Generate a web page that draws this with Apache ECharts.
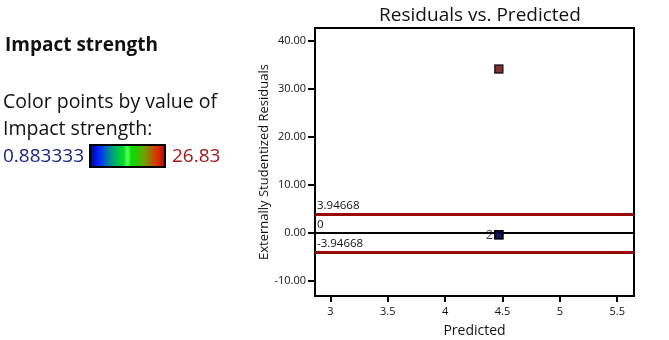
<!DOCTYPE html>
<html><head><meta charset="utf-8">
<script src="https://cdn.jsdelivr.net/npm/echarts@6/dist/echarts.min.js"></script>
<style>html,body{margin:0;padding:0;background:#fff}#c{width:669px;height:340px}</style>
</head><body><div id="c"></div>
<script>
// ---- data ----
const predicted = [4.468, 4.468, 4.468];
const residuals = [34.1, -0.4, -0.4];
const impactStrength = [26.83, 0.883333, 0.9];
const pointLabels = ['', '2', ''];
const limitUpper = 3.94668;
const limitLower = -3.94668;
const xTicks = [3, 3.5, 4, 4.5, 5, 5.5];
const yTicks = [-10, 0, 10, 20, 30, 40];
const colorMin = 0.883333;
const colorMax = 26.83;

const FONT = 'Open Sans';
const pts = predicted.map((x, i) => ({value: [x, residuals[i], impactStrength[i]], label: {show: !!pointLabels[i], formatter: pointLabels[i]}}));
const lblStyle = {fontSize: 11.5, color: '#111', fontFamily: FONT, position: 'insideStartTop', distance: [2, 2]};

const chart = echarts.init(document.getElementById('c'), null, {renderer: 'canvas'});
chart.setOption({
  animation: false,
  textStyle: {fontFamily: FONT},
  title: {text: 'Residuals vs. Predicted', left: 475, top: 1, textAlign: 'center',
    textStyle: {fontFamily: FONT, fontSize: 19, fontWeight: 'normal', color: '#111'}},
  grid: {left: 315, right: 35, top: 28, bottom: 44, show: true, borderColor: '#000', borderWidth: 2,
    backgroundColor: 'transparent', containLabel: false, outerBoundsMode: 'none'},
  visualMap: {show: false, type: 'continuous', dimension: 2, min: colorMin, max: colorMax,
    inRange: {color: ['#0c0c50', '#0a0a30', '#300505', '#600000']}},
  xAxis: {type: 'value', min: 2.866, max: 5.646, splitLine: {show: false},
    name: 'Predicted', nameLocation: 'middle', nameGap: 28,
    nameTextStyle: {fontFamily: FONT, fontSize: 14, color: '#111'},
    axisLine: {show: true, onZero: false, lineStyle: {color: '#000', width: 2}},
    axisTick: {show: true, length: 6, lineStyle: {color: '#000', width: 2}, customValues: xTicks},
    axisLabel: {customValues: xTicks, fontFamily: FONT, fontSize: 11, color: '#111', margin: 10}},
  yAxis: {type: 'value', min: -13.12, max: 42.64, splitLine: {show: false},
    name: 'Externally Studentized Residuals', nameLocation: 'middle', nameGap: 41, nameRotate: 90,
    nameTextStyle: {fontFamily: FONT, fontSize: 13, color: '#111'},
    axisLine: {show: true, onZero: false, lineStyle: {color: '#000', width: 2}},
    axisTick: {show: true, length: 7, lineStyle: {color: '#000', width: 2}, customValues: yTicks},
    axisLabel: {customValues: yTicks, formatter: v => v.toFixed(2), fontFamily: FONT, fontSize: 11, color: '#111', margin: 9}},
  series: [{
    type: 'scatter', symbol: 'rect', symbolSize: 8, z: 5,
    itemStyle: {borderColor: '#000', borderWidth: 1.5},
    label: {position: 'left', distance: 1, color: '#111', fontSize: 13, fontFamily: FONT},
    data: pts,
    markLine: {
      silent: true, symbol: 'none', animation: false,
      data: [
        {yAxis: limitUpper, lineStyle: {color: '#9a0808', width: 3, type: 'solid'},
          label: Object.assign({formatter: String(limitUpper)}, lblStyle)},
        {yAxis: 0, lineStyle: {color: '#000', width: 2, type: 'solid'},
          label: Object.assign({formatter: '0'}, lblStyle)},
        {yAxis: limitLower, lineStyle: {color: '#9a0808', width: 3, type: 'solid'},
          label: Object.assign({formatter: String(limitLower)}, lblStyle)}
      ]
    }
  }],
  graphic: [
    {type: 'text', style: {x: 5, y: 46, text: 'Impact strength', font: 'bold 19px "Open Sans"', fill: '#111', verticalAlign: 'middle'}},
    {type: 'text', style: {x: 3, y: 102, text: 'Color points by value of', font: '19.5px "Open Sans"', fill: '#111', verticalAlign: 'middle'}},
    {type: 'text', style: {x: 3, y: 129, text: 'Impact strength:', font: '19.5px "Open Sans"', fill: '#111', verticalAlign: 'middle'}},
    {type: 'text', style: {x: 3, y: 157, text: String(colorMin), font: '19px "Open Sans"', fill: '#1a237e', verticalAlign: 'middle'}},
    {type: 'text', style: {x: 172, y: 157, text: String(colorMax), font: '19px "Open Sans"', fill: '#a01818', verticalAlign: 'middle'}},
    {type: 'rect', shape: {x: 90, y: 145, width: 75, height: 22},
      style: {stroke: '#000', lineWidth: 2,
        fill: new echarts.graphic.LinearGradient(0, 0, 1, 0, [
          {offset: 0, color: '#000070'}, {offset: 0.12, color: '#0020ff'},
          {offset: 0.3, color: '#00a080'}, {offset: 0.45, color: '#00e020'},
          {offset: 0.5, color: '#60ff60'}, {offset: 0.55, color: '#00e000'},
          {offset: 0.72, color: '#70a000'}, {offset: 0.88, color: '#e03000'},
          {offset: 1, color: '#b00000'}])}}
  ]
});
</script></body></html>
